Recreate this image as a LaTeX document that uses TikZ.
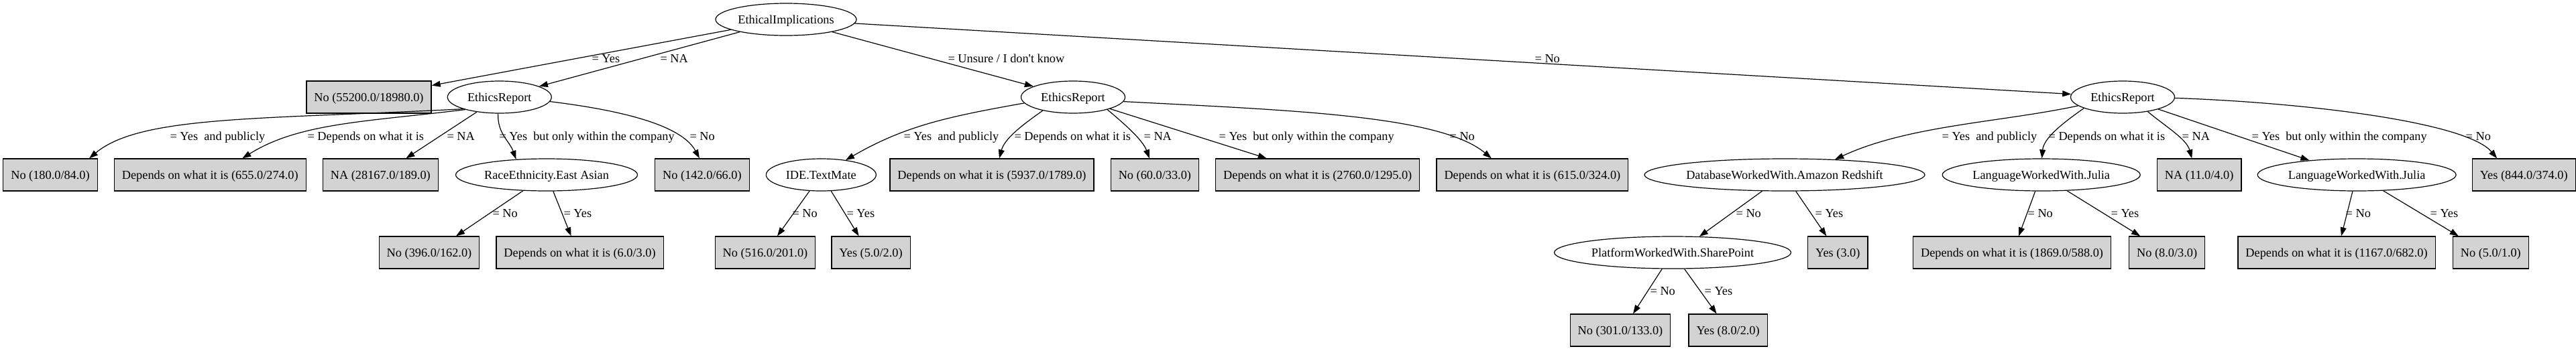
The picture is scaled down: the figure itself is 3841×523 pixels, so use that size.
\documentclass[tikz,border=0pt]{standalone}
\usepackage{fontspec}
\setmainfont{Liberation Serif}
\usepackage{tikz}
\usetikzlibrary{arrows.meta, positioning, shapes.geometric}
\definecolor{leafgrey}{RGB}{211,211,211}

\begin{document}
\begin{tikzpicture}[x=1pt, y=1pt, line width=1.2pt, >={Triangle[length=13pt,width=9pt]},
	font=\fontsize{18.3pt}{22pt}\selectfont]
\tikzset{attr/.style={ellipse, draw, minimum height=48pt, inner xsep=0pt, inner ysep=0pt, text height=12.5pt, text depth=0pt},
		leaf/.style={rectangle, draw, fill=leafgrey, minimum height=48pt, inner xsep=11.5pt, inner ysep=0pt, text height=12.5pt, text depth=0pt},
		cond/.style={anchor=west, inner sep=0pt, text height=12.5pt, text depth=0pt}}
\useasboundingbox (0,0) rectangle (3841,-523);
% root and first split
\node[attr, minimum width=210pt] (EI) at (1172,-29) {EthicalImplications};
\node[leaf] (N55200) at (550,-145) {No (55200.0/18980.0)};
\node[attr, minimum width=155pt, right=23pt of N55200] (ER1) {EthicsReport};
\node[attr, minimum width=155pt] (ER2) at (1600,-145) {EthicsReport};
\node[attr, minimum width=155pt] (ER3) at (3165,-145) {EthicsReport};
\draw[->] (EI) -- (N55200);
\draw[->] (EI) -- (ER1);
\draw[->] (EI) -- (ER2);
\draw[->] (EI) -- (ER3);
\node[cond] (c1) at (882,-87) {= Yes};
\node[cond] (c2) at (984,-87) {= NA};
\node[cond] (c3) at (1413,-87) {= Unsure / I don\textquotesingle t know};
\node[cond] (c4) at (2288,-87) {= No};
% second level
\node[leaf] (N180) at (75,-261) {No (180.0/84.0)};
\node[leaf, right=24pt of N180] (D655) {Depends on what it is (655.0/274.0)};
\node[leaf, right=24pt of D655] (NA28167) {NA (28167.0/189.0)};
\node[attr, minimum width=271pt, right=25pt of NA28167] (REA) {RaceEthnicity.East Asian};
\node[leaf, right=25pt of REA] (N142) {No (142.0/66.0)};
\node[attr, minimum width=164pt, right=24pt of N142] (IDE) {IDE.TextMate};
\node[leaf] (D5937) at (1479,-261) {Depends on what it is (5937.0/1789.0)};
\node[leaf, right=24pt of D5937] (N60) {No (60.0/33.0)};
\node[leaf, right=24pt of N60] (D2760) {Depends on what it is (2760.0/1295.0)};
\node[leaf, right=24pt of D2760] (D615) {Depends on what it is (615.0/324.0)};
\node[attr, minimum width=418pt] (DBR) at (2661,-261) {DatabaseWorkedWith.Amazon Redshift};
\node[attr, minimum width=295pt, right=25pt of DBR] (LJ1) {LanguageWorkedWith.Julia};
\node[leaf, right=24pt of LJ1] (NA11) {NA (11.0/4.0)};
\node[attr, minimum width=296pt, right=23pt of NA11] (LJ2) {LanguageWorkedWith.Julia};
\node[leaf, right=23pt of LJ2] (Y844) {Yes (844.0/374.0)};
\draw[->] (ER1.198) to[out=183, in=40, out distance=300pt, in distance=100pt] ([xshift=58pt]N180.north);
\draw[->] (ER1.200) to[out=187, in=32, out distance=150pt, in distance=100pt] ([xshift=48pt]D655.north);
\draw[->] (ER1) -- ([xshift=38pt]NA28167.north);
\draw[->] (ER1.265) to[out=268, in=110, out distance=30pt, in distance=30pt] (REA.153);
\draw[->] (ER1.355) to[out=-7, in=118, out distance=130pt, in distance=50pt] ([xshift=-4pt]N142.north);
\draw[->] (ER2.187) to[out=190, in=30, out distance=120pt, in distance=100pt] (IDE.31);
\draw[->] (ER2.204) to[out=215, in=75, out distance=40pt, in distance=30pt] ([xshift=11pt]D5937.north);
\draw[->] (ER2.-20) to[out=-40, in=110, out distance=30pt, in distance=30pt] ([xshift=-8pt]N60.north);
\draw[->] (ER2) -- ([xshift=-76pt]D2760.north);
\draw[->] (ER2.-5) to[out=-3, in=140, out distance=250pt, in distance=100pt] ([xshift=-61pt]D615.north);
\draw[->] (ER3.191) to[out=192, in=25, out distance=120pt, in distance=120pt] (DBR.17);
\draw[->] (ER3.196) to[out=215, in=85, out distance=40pt, in distance=30pt] (LJ1.88);
\draw[->] (ER3.-30) to[out=-40, in=105, out distance=35pt, in distance=30pt] ([xshift=-11pt]NA11.north);
\draw[->] (ER3) -- (LJ2.163);
\draw[->] (ER3.-1) to[out=-2, in=130, out distance=200pt, in distance=70pt] ([xshift=-40pt]Y844.north);
\node[cond] (c5) at (253,-203) {= Yes\ \ and publicly};
\node[cond] (c6) at (458,-203) {= Depends on what it is};
\node[cond] (c7) at (666,-203) {= NA};
\node[cond] (c8) at (744,-203) {= Yes\ \ but only within the company};
\node[cond] (c9) at (1028,-203) {= No};
\node[cond] (c10) at (1347,-203) {= Yes\ \ and publicly};
\node[cond] (c11) at (1512,-203) {= Depends on what it is};
\node[cond] (c12) at (1705,-203) {= NA};
\node[cond] (c13) at (1817,-203) {= Yes\ \ but only within the company};
\node[cond] (c14) at (2161,-203) {= No};
\node[cond] (c15) at (2895,-203) {= Yes\ \ and publicly};
\node[cond] (c16) at (3054,-203) {= Depends on what it is};
\node[cond] (c17) at (3253,-203) {= NA};
\node[cond] (c18) at (3357,-203) {= Yes\ \ but only within the company};
\node[cond] (c19) at (3676,-203) {= No};
% third level
\node[leaf] (N396) at (640,-377) {No (396.0/162.0)};
\node[leaf, right=24pt of N396] (D6) {Depends on what it is (6.0/3.0)};
\node[leaf] (N516) at (1141,-377) {No (516.0/201.0)};
\node[leaf, right=23pt of N516] (Y5) {Yes (5.0/2.0)};
\node[attr, minimum width=353pt] (PWS) at (2494,-377) {PlatformWorkedWith.SharePoint};
\node[leaf, right=24pt of PWS] (Y3) {Yes (3.0)};
\node[leaf] (D1869) at (3000,-377) {Depends on what it is (1869.0/588.0)};
\node[leaf, right=26pt of D1869] (N8) {No (8.0/3.0)};
\node[leaf] (D1167) at (3484,-377) {Depends on what it is (1167.0/682.0)};
\node[leaf, right=25pt of D1167] (N5) {No (5.0/1.0)};
\draw[->] (REA) -- ([xshift=40pt]N396.north);
\draw[->] (REA) -- ([xshift=-13pt]D6.north);
\draw[->] (IDE) -- ([xshift=18pt]N516.north);
\draw[->] (IDE) -- ([xshift=-18pt]Y5.north);
\draw[->] (DBR) -- (PWS.31);
\draw[->] (DBR) -- ([xshift=-17pt]Y3.north);
\draw[->] (LJ1) -- ([xshift=10pt]D1869.north);
\draw[->] (LJ1) -- ([xshift=-40pt]N8.north);
\draw[->] (LJ2) -- ([xshift=7pt]D1167.north);
\draw[->] (LJ2) -- ([xshift=-48pt]N5.north);
\node[cond] (c20) at (734,-318) {= No};
\node[cond] (c21) at (840,-318) {= Yes};
\node[cond] (c22) at (1181,-318) {= No};
\node[cond] (c23) at (1262,-318) {= Yes};
\node[cond] (c24) at (2588,-318) {= No};
\node[cond] (c25) at (2706,-318) {= Yes};
\node[cond] (c26) at (3023,-318) {= No};
\node[cond] (c27) at (3147,-318) {= Yes};
\node[cond] (c28) at (3497,-318) {= No};
\node[cond] (c29) at (3623,-318) {= Yes};
% fourth level
\node[leaf] (N301) at (2416,-493) {No (301.0/133.0)};
\node[leaf, right=26pt of N301] (Y8) {Yes (8.0/2.0)};
\draw[->] (PWS) -- ([xshift=19pt]N301.north);
\draw[->] (PWS) -- ([xshift=-17pt]Y8.north);
\node[cond] (c30) at (2460,-434) {= No};
\node[cond] (c31) at (2541,-434) {= Yes};
\end{tikzpicture}
\end{document}
